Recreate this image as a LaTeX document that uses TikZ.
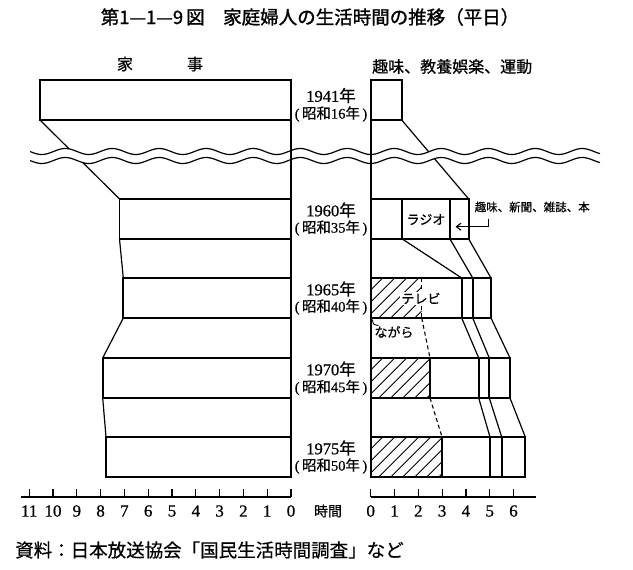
\documentclass[tikz,border=0pt]{standalone}
\usepackage{fontspec}
\setmainfont{Liberation Serif}
\newfontfamily\jp{Noto Sans CJK JP}[FakeBold=0.6]
\newfontfamily\jpt{Noto Sans CJK JP}[FakeBold=1.3]
\newfontfamily\numf{Liberation Serif}[FakeBold=0.6]
\usetikzlibrary{arrows.meta}
\begin{document}
\begin{tikzpicture}[x=1pt,y=-1pt,
  barline/.style={line width=1.8pt, line join=miter},
  conn/.style={line width=1.2pt},
  hatchline/.style={line width=0.8pt},
  dashline/.style={line width=1.1pt, dash pattern=on 4pt off 3pt},
  yr/.style={inner sep=0pt, font=\numf\fontsize{16.5}{16.5}\selectfont},
  sho/.style={inner sep=0pt, font=\numf\fontsize{14.5}{14.5}\selectfont},
  tick/.style={inner sep=0pt, font=\numf\fontsize{17}{17}\selectfont},
  jlab/.style={inner sep=0pt, font=\jp\fontsize{16}{16}\selectfont},
  small/.style={inner sep=0pt, font=\jp\fontsize{13}{13}\selectfont}]
\useasboundingbox[fill=white] (0,0) rectangle (633,570);

% ---------- connectors between years ----------
% left (household work)
\draw[conn] (40,120) -- (119.5,199);
\draw[conn] (119.5,239) -- (123.3,278);
\draw[conn] (123.3,318) -- (102.7,358);
\draw[conn] (102.7,398) -- (106,437);
% right (hobby etc.)
\draw[conn] (401.7,120) -- (468.7,199);
\draw[conn] (402.3,239) -- (461.7,278);
\draw[conn] (450,239) -- (472.7,278);
\draw[conn] (468.7,239) -- (491,278);
\draw[conn] (461.7,318) -- (478.7,358);
\draw[conn] (472.7,318) -- (489.3,358);
\draw[conn] (491,318) -- (510,358);
\draw[conn] (478.7,398) -- (490,437);
\draw[conn] (489.3,398) -- (501.7,437);
\draw[conn] (510,398) -- (525.3,437);
\draw[dashline] (421.7,318) -- (430,358);
\draw[dashline] (430,398) -- (442,437);

% ---------- break (wavy lines) ----------
\fill[white] plot[domain=30:600,samples=240] (\x,{151.5+3*sin(7.66*(\x-30))})
  -- plot[domain=600:30,samples=240] (\x,{160.5+3*sin(7.66*(\x-30))}) -- cycle;
\draw[conn] plot[domain=30:600,samples=240,smooth] (\x,{151.5+3*sin(7.66*(\x-30))});
\draw[conn] plot[domain=30:600,samples=240,smooth] (\x,{160.5+3*sin(7.66*(\x-30))});

% ---------- hatching (watching while doing) ----------
\begin{scope}
\clip (370.7,278) rectangle (421.7,318);
\foreach \i in {0,12,...,110} \draw[hatchline] (330.7+\i,318) -- ++(40,-40);
\end{scope}
\begin{scope}
\clip (370.7,358) rectangle (430,398);
\foreach \i in {0,12,...,110} \draw[hatchline] (330.7+\i,398) -- ++(40,-40);
\end{scope}
\begin{scope}
\clip (370.7,437) rectangle (442,477);
\foreach \i in {0,12,...,130} \draw[hatchline] (330.7+\i,477) -- ++(40,-40);
\end{scope}
\draw[dashline] (421.7,278) -- (421.7,318);

% ---------- bars: household work ----------
\draw[barline] (291,80) rectangle (40,120);
\draw[barline] (291,199) rectangle (119.5,239);
\draw[barline] (291,278) rectangle (123.3,318);
\draw[barline] (291,358) rectangle (102.7,398);
\draw[barline] (291,437) rectangle (106,477);

% ---------- bars: hobby, culture, sport ----------
\draw[barline] (370.7,80) rectangle (401.7,120);
\draw[barline] (370.7,199) rectangle (468.7,239);
\draw[barline] (402.3,199) -- (402.3,239);
\draw[barline] (450,199) -- (450,239);
\draw[barline] (370.7,278) rectangle (491,318);
\draw[barline] (461.7,278) -- (461.7,318);
\draw[barline] (472.7,278) -- (472.7,318);
\draw[barline] (370.7,358) rectangle (510,398);
\draw[barline] (430,358) -- (430,398);
\draw[barline] (478.7,358) -- (478.7,398);
\draw[barline] (489.3,358) -- (489.3,398);
\draw[barline] (370.7,437) rectangle (525.3,477);
\draw[barline] (442,437) -- (442,477);
\draw[barline] (490,437) -- (490,477);
\draw[barline] (501.7,437) -- (501.7,477);

% zero lines
\draw[barline] (291,80) -- (291,477);
\draw[barline] (370.7,80) -- (370.7,477);

% ---------- axes ----------
\draw[barline] (21,497) -- (291,497);
\foreach \k in {0,...,11} {
  \draw[conn] ({291-23.8*\k},497) -- ++(0,-8);
  \node[tick] at ({291-23.8*\k},511) {\k};
}
\draw[barline] (370.7,497) -- (536,497);
\foreach \k in {0,...,6} {
  \draw[conn] ({370.7+23.8*\k},497) -- ++(0,-8);
  \node[tick] at ({370.7+23.8*\k},511) {\k};
}
\node[inner sep=0pt, font=\jp\fontsize{14}{14}\selectfont] (unit) at (328,511) {時間};

% ---------- year labels ----------
\node[yr] (y41) at (331,95.5) {1941{\jp 年}};
\node[sho] (s41) at (331,114) {(\,{\jp 昭和}16{\jp 年}\,)};
\node[yr] (y60) at (331,210) {1960{\jp 年}};
\node[sho] (s60) at (331,228) {(\,{\jp 昭和}35{\jp 年}\,)};
\node[yr] (y65) at (331,289) {1965{\jp 年}};
\node[sho] (s65) at (331,307) {(\,{\jp 昭和}40{\jp 年}\,)};
\node[yr] (y70) at (331,369) {1970{\jp 年}};
\node[sho] (s70) at (331,387.5) {(\,{\jp 昭和}45{\jp 年}\,)};
\node[yr] (y75) at (331,448) {1975{\jp 年}};
\node[sho] (s75) at (331,466) {(\,{\jp 昭和}50{\jp 年}\,)};

% ---------- in-bar labels ----------
\node[small] (radio) at (426,219.5) {ラジオ};
\node[small, fill=white, inner sep=1.2pt] (tv) at (421,298.5) {テレビ};
\node[small] (nagara) at (394,332) {ながら};
\draw[line width=0.9pt] (372.5,319.5) .. controls (373,324.5) .. (378.5,325.5);
\node[inner sep=0pt, anchor=west, font=\jp\fontsize{11.5}{11.5}\selectfont] (hobby) at (474.5,207) {趣味、新聞、雑誌、本};
\coordinate (tip) at (455.5,226.7);
\draw[conn, -{Straight Barb[length=4.5pt,width=7pt]}] (488.3,218.5) -- (488.3,226.7) -- (tip);

% ---------- headings ----------
\node[jlab] (ka) at (125,64) {家};
\node[jlab] (ji) at (195,64) {事};
\node[jlab, anchor=west] (shumi) at (372,66.5) {趣味、教養娯楽、運動};
\node[inner sep=0pt, font=\jpt\fontsize{18.5}{18.5}\selectfont] (title) at (310,17)
  {第1—1—9\,図　家庭婦人の生活時間の推移（平日）};
\node[inner sep=0pt, anchor=west, font=\jp\fontsize{18.5}{18.5}\selectfont] (src) at (15,550)
  {資料：日本放送協会「国民生活時間調査」など};
\end{tikzpicture}
\end{document}
